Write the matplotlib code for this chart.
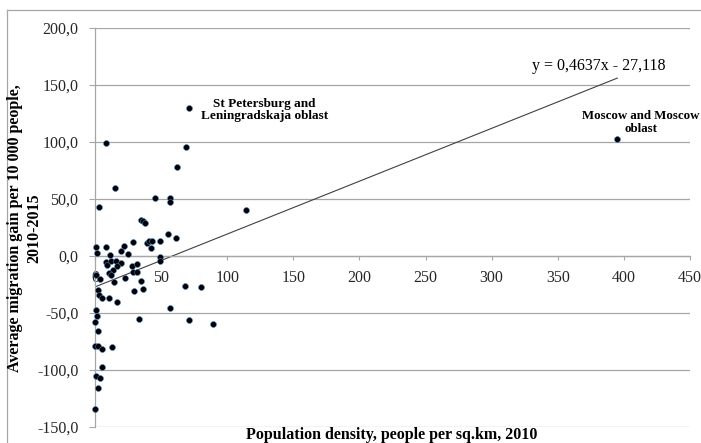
import numpy as np
import matplotlib
matplotlib.use('Agg')
import matplotlib.pyplot as plt
from matplotlib.lines import Line2D
from matplotlib.ticker import FuncFormatter

plt.rcParams['font.family'] = ['Liberation Serif', 'DejaVu Serif']

# population density 2010 (people per sq.km) vs average migration gain 2010-2015
density = [395, 71, 69, 62, 45, 57, 57, 3, 114, 8.3, 15, 35, 36.5, 38,
           1, 1.5, 8, 11, 22, 20, 25, 29, 39, 41, 43, 42, 49, 55, 61,
           49, 49, 8, 9, 12, 16, 20, 16.5, 13.5, 10.6, 12, 14, 28, 29, 32,
           32, 23, 35, 36.5, 29.5, 1, 4, 2.5, 3, 5.5, 10.6, 16.5, 68, 80,
           57, 1, 33, 71, 89, 1.5, 0, 2.4, 0, 2.5, 5.5, 13, 5, 1, 4, 2.4, 0]
migration = [102.6, 130, 95.6, 78, 51, 51, 47, 43, 40, 99, 60, 32, 31, 29,
             8, 3, 8, 1, 9, 4, 2, 12, 11, 13, 13, 7, 13, 19, 16,
             -1, -4, -5, -8, -4, -4, -6, -9, -12, -15, -17, -23, -9, -14, -7,
             -14, -19, -22, -29, -31, -17, -20, -30, -34, -37, -37, -40, -26, -27,
             -46, -47, -55, -56, -60, -53, -58, -66, -79, -79, -82, -80, -97, -105, -107, -116, -134]

trend_slope = 0.4637
trend_icept = -27.118
trend_label = 'y = 0,4637x - 27,118'
xticks = [0, 50, 100, 150, 200, 250, 300, 350, 400, 450]
yticks = [-150, -100, -50, 0, 50, 100, 150, 200]

fig = plt.figure(figsize=(7.01, 4.43), dpi=100)
ax = fig.add_axes([95/701, 1-427/443, 595/701, 399/443])

grid_c = '#a6a6a6'
for yv in yticks:
  ax.axhline(yv, color=grid_c, lw=0.9, zorder=0)

ax.scatter(density, migration, s=18, c='black', edgecolors='#4a7ebb',
           linewidths=0.4, zorder=3, clip_on=False)

xt = np.array([0, max(density)])
ax.plot(xt, trend_slope*xt + trend_icept, color='#404040', lw=0.8, zorder=2)

ax.set_xlim(0, 450)
ax.set_ylim(-150, 200)
ax.spines['top'].set_visible(False)
ax.spines['right'].set_visible(False)
ax.spines['bottom'].set_position(('data', 0))
for s in ['left', 'bottom']:
  ax.spines[s].set_color(grid_c)
  ax.spines[s].set_linewidth(0.9)

ax.set_xticks(xticks)
ax.set_yticks(yticks)
ax.yaxis.set_major_formatter(FuncFormatter(lambda v, p: ('%.1f' % v).replace('.', ',')))
ax.tick_params(axis='x', length=3, color=grid_c, pad=7, labelsize=11.5, labelcolor='#262626')
ax.tick_params(axis='y', length=4, color=grid_c, pad=8, labelsize=11.5, labelcolor='#262626')

ax.text(128, 128, 'St Petersburg and\nLeningradskaja oblast', ha='center', va='center',
        fontsize=9.5, fontweight='bold', linespacing=1.05)
ax.text(413, 117, 'Moscow and Moscow\noblast', ha='center', va='center',
        fontsize=9.3, fontweight='bold', linespacing=1.05, clip_on=False)
ax.text(381, 167, trend_label, ha='center', va='center', fontsize=11.5)

fig.text(392/701, 1-435/443, 'Population density, people per sq.km, 2010',
         ha='center', va='center', fontsize=11.5, fontweight='bold')
fig.text(25/701, 1-228/443, 'Average migration gain per 10 000 people,\n2010-2015',
         ha='center', va='center', rotation=90, fontsize=11.5, fontweight='bold',
         linespacing=1.3)

# chart area border (left and top visible)
fig.add_artist(Line2D([7/701, 7/701], [0, 1-10/443], color=grid_c, lw=0.9))
fig.add_artist(Line2D([7/701, 1], [1-10/443, 1-10/443], color=grid_c, lw=0.9))

fig.savefig('out.png', dpi=100)
